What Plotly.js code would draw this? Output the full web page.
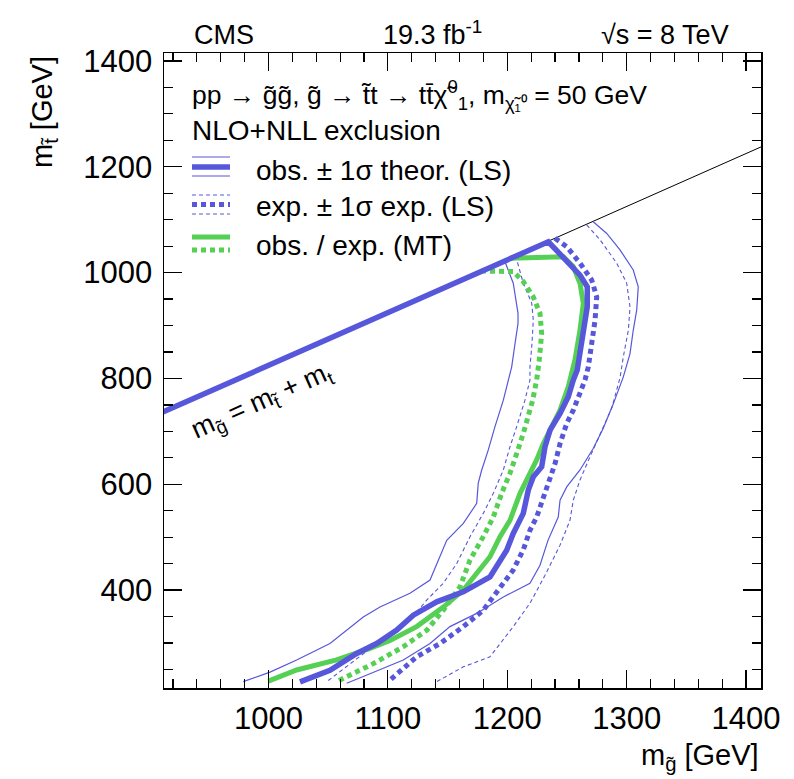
<!DOCTYPE html>
<html>
<head>
<meta charset="utf-8">
<script src="https://cdn.plot.ly/plotly-3.0.1.min.js"></script>
<style>html,body{margin:0;padding:0;background:#fff;}#chart{width:794px;height:779px;}</style>
</head>
<body>
<div id="chart"></div>
<script>
// ---- data (GeV) ----
const obsX = [900, 1234.4, 1260.9, 1267, 1267, 1264.3, 1261.5, 1258.6, 1255.3, 1251.1, 1244.2, 1235.8, 1231.6, 1228.8, 1221.8, 1217.6, 1213.4, 1205, 1199.5, 1191.1, 1185.5, 1163.2, 1140.9, 1121.3, 1107.4, 1090.6, 1073.9, 1051.5, 1026.4];
const obsY = [725, 1058.3, 995.3, 973.2, 935.4, 897.6, 859.8, 815.8, 796.9, 765.3, 733.9, 702.3, 670.8, 633, 614, 588.9, 544.9, 507, 475.5, 443.9, 425, 396.7, 377.8, 352.6, 324.3, 299.1, 280.2, 248.6, 226.5];

const obsDownX = [1198, 1205, 1209, 1209, 1206.5, 1203.7, 1199.5, 1196.7, 1189.7, 1184.1, 1178.6, 1175.7, 1174.4, 1163.2, 1149.3, 1140.9, 1135.3, 1118.5, 1093.4, 1079.4, 1051.5, 1023.6, 1001.3, 978.9];
const obsDownY = [1021, 980, 923, 904, 866, 822, 784, 759, 709, 665, 627, 602, 564, 526, 494, 450, 419, 394, 368, 349, 299, 268, 245, 227];

const obsUpX = [1272, 1283.3, 1294.4, 1305.5, 1309.7, 1308.4, 1305.5, 1302.8, 1297.2, 1288.8, 1280.4, 1272.1, 1260.9, 1249.8, 1244.2, 1242.7, 1234.1, 1227.4, 1219, 1196.7, 1174.4, 1152, 1135.3, 1112.9, 1085, 1065.5];
const obsUpY = [1096, 1074, 1043, 1005, 973, 929, 891, 847, 803, 752, 706, 668, 627, 595, 570, 538, 494, 447, 413, 387, 356, 331, 299, 268, 242, 224];

const expX = [1240, 1249.8, 1260.9, 1270.7, 1274.9, 1273.5, 1270.7, 1267.9, 1265.1, 1260.9, 1255.3, 1249.8, 1244.2, 1240, 1234.4, 1228.8, 1224.6, 1219, 1213.4, 1205, 1191.1, 1179.9, 1163.2, 1143.7, 1124.1, 1101.8];
const expY = [1065, 1049, 1018, 986, 954, 910, 866, 822, 797, 772, 740, 715, 677, 639, 602, 570, 538, 513, 476, 438, 394, 362, 331, 299, 274, 230];

const expDownX = [1207, 1213.4, 1220.5, 1221.8, 1220.5, 1219, 1219, 1214.8, 1207.9, 1202.3, 1196.7, 1188.3, 1179.9, 1168.8, 1157.6, 1146.4, 1132.5, 1118.5, 1101.8, 1079.4, 1048.8];
const expDownY = [1032, 980, 942, 910, 860, 822, 797, 759, 709, 671, 627, 583, 545, 501, 450, 413, 381, 343, 318, 280, 227];

const expUpX = [1266.5, 1277.7, 1291.6, 1300, 1302.8, 1301.4, 1297.2, 1294.4, 1287.5, 1277.7, 1269.3, 1260.9, 1255.3, 1252.5, 1244.2, 1231.6, 1219, 1205, 1185.5, 1163.2, 1140.9];
const expUpY = [1090, 1062, 1018, 980, 935, 891, 841, 801, 744, 696, 652, 608, 570, 532, 485, 428, 375, 331, 274, 255, 227];

const mtObsX = [1202.3, 1246.9, 1255.3, 1260.9, 1263.7, 1260.9, 1256.7, 1251.1, 1244.2, 1235.8, 1230.2, 1224.6, 1219, 1210.7, 1202.3, 1193.9, 1185.5, 1174.4, 1163.2, 1146.4, 1124.1, 1101.8, 1085, 1057.1, 1023.6, 999.9];
const mtObsY = [1027, 1030, 1011, 980, 942, 891, 835, 784, 740, 702, 677, 646, 621, 583, 532, 501, 463, 431, 400, 368, 331, 305, 290, 268, 249, 228];

const mtExpX = [1178, 1205, 1213.4, 1221.8, 1227.4, 1228.8, 1226.8, 1224.6, 1221.3, 1217.6, 1213.4, 1207.9, 1202.3, 1195.3, 1188.3, 1179.9, 1168.8, 1160.4, 1146.4, 1132.5, 1112.9, 1087.8, 1057.1];
const mtExpY = [1003, 1002, 983, 954, 923, 885, 835, 797, 759, 728, 696, 658, 621, 583, 538, 501, 457, 406, 362, 324, 293, 261, 227];

const kinX = [1234, 1415];
const kinY = [1059, 1240];

const xTickVals = [1000, 1100, 1200, 1300, 1400];
const yTickVals = [400, 600, 800, 1000, 1200, 1400];

// ---- styling ----
const BLUE = '#5757dc';
const GREEN = '#55d055';
const FONT = 'Liberation Sans, Arial, Helvetica, sans-serif';
const L = 164, R = 761, T = 53, B = 688;
const W = 794, H = 779;
const px = x => (x - L) / (R - L);
const py = y => (B - y) / (B - T);

function tr(x, y, color, width, dash) {
  return {x: x, y: y, type: 'scatter', mode: 'lines', hoverinfo: 'skip',
          line: {color: color, width: width, dash: dash || 'solid'}};
}

const traces = [
  tr(kinX, kinY, '#000', 1),
  tr(obsDownX, obsDownY, BLUE, 1.2),
  tr(obsUpX, obsUpY, BLUE, 1.2),
  tr(expDownX, expDownY, BLUE, 1.1, '4px,3px'),
  tr(expUpX, expUpY, BLUE, 1.1, '4px,3px'),
  tr(mtExpX, mtExpY, GREEN, 5, '5px,4px'),
  tr(expX, expY, BLUE, 5, '5px,4px'),
  tr(mtObsX, mtObsY, GREEN, 5),
  tr(obsX, obsY, BLUE, 5.5)
];

function seg(x0, x1, y, color, width, dash) {
  return {type: 'line', xref: 'paper', yref: 'paper', x0: px(x0), x1: px(x1), y0: py(y), y1: py(y),
          line: {color: color, width: width, dash: dash || 'solid'}};
}
const shapes = [
  seg(192, 230, 157, BLUE, 1.2),
  seg(192, 230, 167, BLUE, 5.5),
  seg(192, 230, 176, BLUE, 1.2),
  seg(192, 230, 195, BLUE, 1.1, '4px,3px'),
  seg(192, 230, 204.5, BLUE, 5, '5px,4px'),
  seg(192, 230, 214, BLUE, 1.1, '4px,3px'),
  seg(192, 230, 237, GREEN, 5),
  seg(192, 230, 250, GREEN, 5, '5px,4px')
];

function ann(text, x, y, xanchor, size, extra) {
  return Object.assign({text: text, xref: 'paper', yref: 'paper', x: px(x), y: py(y),
    xanchor: xanchor, yanchor: 'middle', showarrow: false,
    font: {family: FONT, size: size, color: '#000'}}, extra || {});
}
const annotations = [
  ann('CMS', 192, 35, 'left', 27),
  ann('19.3 fb<sup>-1</sup>', 432, 33, 'center', 27),
  ann('\u221As = 8 TeV', 731, 35, 'right', 27),
  ann('pp \u2192 g\u0303g\u0303, g\u0303 \u2192 t\u0303t \u2192 tt\u0304\u03C7\u0303<sup>0</sup><sub>1</sub>, m<sub>\u03C7\u0303\u2081\u2070</sub> = 50 GeV', 190, 95, 'left', 26.5),
  ann('NLO+NLL exclusion', 190, 130, 'left', 28),
  ann('obs. \u00B1 1\u03C3 theor. (LS)', 254, 170, 'left', 28),
  ann('exp. \u00B1 1\u03C3 exp. (LS)', 254, 207, 'left', 28),
  ann('obs. / exp. (MT)', 254, 245, 'left', 28),
  ann('m<sub>g\u0303</sub> = m<sub>t\u0303</sub> + m<sub>t</sub>', 262, 402, 'center', 27, {textangle: -24}),
  ann('m<sub>g\u0303</sub> [GeV]', 761, 757, 'right', 29),
  ann('m<sub>t\u0303</sub> [GeV]', 44, 54, 'center', 29, {textangle: -90, yanchor: 'top'})
];

function axis(extra) {
  return Object.assign({
    showgrid: false, zeroline: false, showline: true, linecolor: '#000', linewidth: 1.5,
    mirror: 'allticks', ticks: 'inside', ticklen: 18, tickwidth: 1.2, tickcolor: '#000',
    tickfont: {family: FONT, size: 31, color: '#000'}, fixedrange: true
  }, extra);
}

const layout = {
  width: W, height: H,
  margin: {l: L, r: W - R, t: T, b: H - B, pad: 0},
  paper_bgcolor: '#fff', plot_bgcolor: '#fff',
  showlegend: false,
  xaxis: axis({
    range: [912.5, 1412.5], tickmode: 'array', tickvals: xTickVals, ticklabelstandoff: 2,
    minor: {dtick: 20, tick0: 0, ticks: 'inside', ticklen: 9, tickwidth: 1.2, tickcolor: '#000', showgrid: false}
  }),
  yaxis: axis({
    range: [215, 1415], tickmode: 'array', tickvals: yTickVals, ticklabelstandoff: 4,
    minor: {dtick: 50, tick0: 0, ticks: 'inside', ticklen: 9, tickwidth: 1.2, tickcolor: '#000', showgrid: false}
  }),
  shapes: shapes,
  annotations: annotations
};

Plotly.newPlot('chart', traces, layout, {displayModeBar: false, staticPlot: true});
</script>
</body>
</html>
